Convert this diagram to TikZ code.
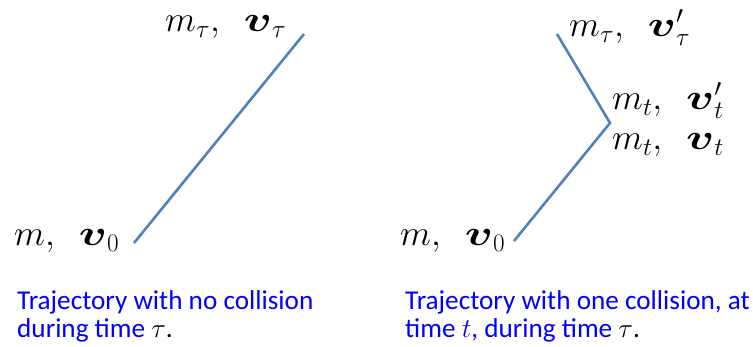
\RequirePackage{fix-cm}
\documentclass[tikz,border=0pt]{standalone}
\usepackage{fontspec}
\usepackage{bm}
\usepackage{graphicx}
\setmainfont{Carlito}
\newcommand{\velo}{\mathord{\scalebox{1.3}[1]{$\bm{v}$}}}
\newcommand{\gapsp}{\mskip 9mu}
\begin{document}
\begin{tikzpicture}[x=1pt,y=-1pt,
  traj/.style={line width=2.6pt, draw={rgb,255:red,79;green,129;blue,189}},
  lab/.style={anchor=base west, inner sep=0pt, font=\fontsize{36}{40}\selectfont},
  captext/.style={anchor=base west, inner sep=0pt, text={rgb,255:red,0;green,0;blue,255}, font=\fontsize{27.2}{29}\selectfont}]
\useasboundingbox (0,0) rectangle (753,347);
% left trajectory
\coordinate (a0) at (134,243);
\coordinate (a1) at (304,34);
\draw[traj] (a0) -- (a1);
\node[lab] (l0) at (14,246) {$m,\gapsp\velo_0$};
\node[lab] (l1) at (165,32) {$m_\tau,\gapsp\velo_\tau$};
% right trajectory
\coordinate (b0) at (514,241);
\coordinate (b1) at (610,123);
\coordinate (b2) at (557,34);
\draw[traj] (b0) -- (b1) -- (b2);
\node[lab] (r0) at (400,246) {$m,\gapsp\velo_0$};
\node[lab] (r1) at (612,150) {$m_t,\gapsp\velo_t$};
\node[lab] (r2) at (612,110) {$m_t,\gapsp\velo'_t$};
\node[lab] (r3) at (569,37) {$m_\tau,\gapsp\velo'_\tau$};
% captions
\node[captext] (c1a) at (17,310) {Trajectory with no collision};
\node[captext] (c1b) at (17,338) {during time \textcolor{black}{$\tau$.}};
\node[captext] (c2a) at (405,310) {Trajectory with one collision, at};
\node[captext] (c2b) at (405,338) {time $t$, during time \textcolor{black}{$\tau$.}};
\end{tikzpicture}
\end{document}
